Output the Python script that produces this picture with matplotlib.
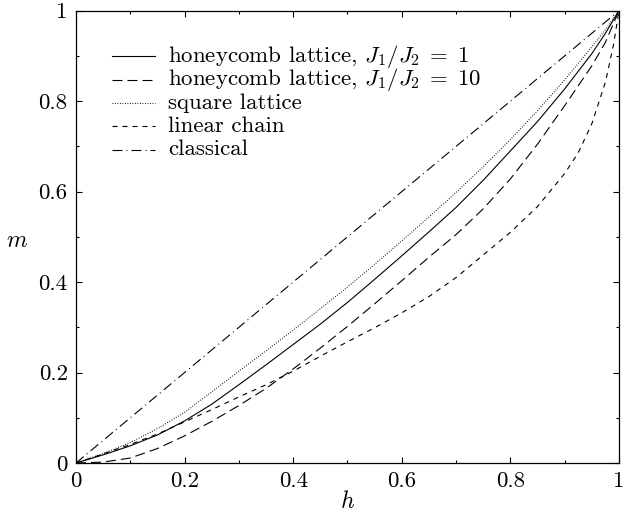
import matplotlib
matplotlib.use('Agg')
import matplotlib.pyplot as plt

# values
honey1_h = [0, 0.05, 0.1, 0.15, 0.2, 0.25, 0.3, 0.35, 0.4, 0.45, 0.5, 0.55, 0.6, 0.65, 0.7, 0.75, 0.8, 0.85, 0.9, 0.95, 0.975, 1]
honey1_m = [0, 0.018, 0.038, 0.062, 0.093, 0.130, 0.173, 0.217, 0.262, 0.307, 0.355, 0.406, 0.458, 0.511, 0.565, 0.625, 0.690, 0.755, 0.827, 0.905, 0.950, 1]

honey10_h = [0, 0.05, 0.1, 0.15, 0.2, 0.25, 0.3, 0.35, 0.4, 0.45, 0.5, 0.55, 0.6, 0.65, 0.7, 0.75, 0.8, 0.85, 0.9, 0.95, 0.975, 1]
honey10_m = [0, 0.002, 0.011, 0.032, 0.060, 0.092, 0.127, 0.165, 0.208, 0.254, 0.302, 0.352, 0.403, 0.455, 0.505, 0.562, 0.628, 0.705, 0.790, 0.878, 0.930, 1]

square_h = [0, 0.05, 0.1, 0.15, 0.2, 0.25, 0.3, 0.35, 0.4, 0.45, 0.5, 0.55, 0.6, 0.65, 0.7, 0.75, 0.8, 0.85, 0.9, 0.95, 0.975, 1]
square_m = [0, 0.021, 0.045, 0.076, 0.112, 0.157, 0.203, 0.248, 0.294, 0.341, 0.389, 0.439, 0.491, 0.544, 0.598, 0.655, 0.715, 0.779, 0.847, 0.920, 0.958, 1]

chain_h = [0, 0.05, 0.1, 0.15, 0.2, 0.25, 0.3, 0.35, 0.4, 0.45, 0.5, 0.55, 0.6, 0.65, 0.7, 0.75, 0.8, 0.85, 0.9, 0.925, 0.95, 0.975, 0.99, 1]
chain_m = [0, 0.020, 0.041, 0.064, 0.091, 0.118, 0.146, 0.173, 0.203, 0.236, 0.268, 0.299, 0.332, 0.368, 0.410, 0.460, 0.510, 0.567, 0.640, 0.686, 0.750, 0.842, 0.925, 1]

classical_h = [0, 1]
classical_m = [0, 1]

tick_vals = [0, 0.2, 0.4, 0.6, 0.8, 1]
tick_labels = ['0', '0.2', '0.4', '0.6', '0.8', '1']

plt.rcParams['font.family'] = ['cmr10', 'DejaVu Serif']
plt.rcParams['mathtext.fontset'] = 'cm'
plt.rcParams['lines.scale_dashes'] = False

fig = plt.figure(figsize=(6.26, 5.12), dpi=100)
ax = fig.add_axes([0.1214, 0.0957, 0.8674, 0.8835])

lw = 0.8
series = [
    (honey1_h, honey1_m, '-', r'honeycomb lattice, $J_1/J_2\;=\;1$'),
    (honey10_h, honey10_m, (0, (7.2, 3.6)), r'honeycomb lattice, $J_1/J_2\;=\;10$'),
    (square_h, square_m, (0, (0.6, 1.2)), 'square lattice'),
    (chain_h, chain_m, (0, (3.6, 3.6)), 'linear chain'),
    (classical_h, classical_m, (0, (7.2, 2.9, 0.7, 2.9)), 'classical'),
]

# key drawn by hand so that every row has the same height (gnuplot style)
key_y0 = 0.899
key_dy = 0.0515
for i, (hh, mm, ls, lab) in enumerate(series):
    ax.plot(hh, mm, color='black', lw=lw, linestyle=ls)
    y = key_y0 - i * key_dy
    ax.plot([0.066, 0.146], [y, y], color='black', lw=lw, linestyle=ls,
            transform=ax.transAxes)
    ax.text(0.170, y - 0.0125, lab, fontsize=16.5, va='baseline', ha='left',
            transform=ax.transAxes)

ax.set_xlim(0, 1)
ax.set_ylim(0, 1)
ax.set_xticks(tick_vals)
ax.set_xticklabels(tick_labels)
ax.set_yticks(tick_vals)
ax.set_yticklabels(tick_labels)
ax.set_xticks([0.1, 0.3, 0.5, 0.7, 0.9], minor=True)
ax.set_yticks([0.1, 0.3, 0.5, 0.7, 0.9], minor=True)
ax.tick_params(which='both', direction='in', top=True, right=True, width=0.8)
ax.tick_params(which='major', length=4.5, labelsize=16.5, pad=6)
ax.tick_params(which='minor', length=2.3)
for sp in ax.spines.values():
    sp.set_linewidth(0.9)

ax.set_xlabel(r'$h$', fontsize=17, labelpad=0)
ax.set_ylabel(r'$m$', fontsize=17, rotation=0, va='center')
ax.yaxis.set_label_coords(-0.108, 0.49)

fig.savefig('out.png', dpi=100)
